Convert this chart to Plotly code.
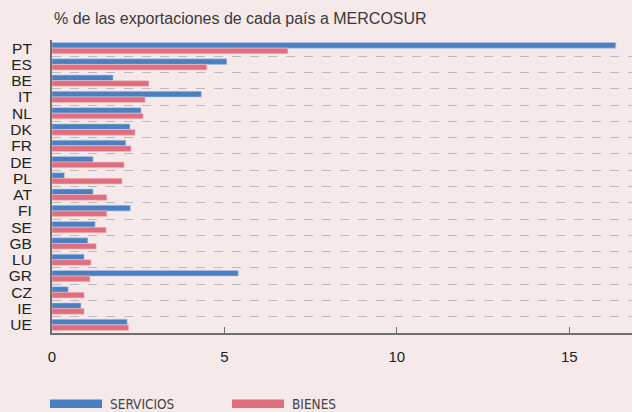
import plotly.graph_objects as go

countries = ["PT", "ES", "BE", "IT", "NL", "DK", "FR", "DE", "PL", "AT", "FI", "SE", "GB", "LU", "GR", "CZ", "IE", "UE"]
servicios = [16.35, 5.07, 1.77, 4.33, 2.58, 2.26, 2.14, 1.19, 0.36, 1.19, 2.27, 1.25, 1.04, 0.93, 5.40, 0.47, 0.84, 2.18]
bienes = [6.84, 4.49, 2.81, 2.70, 2.64, 2.41, 2.29, 2.09, 2.03, 1.59, 1.59, 1.57, 1.28, 1.13, 1.10, 0.93, 0.93, 2.22]
x_ticks = [0, 5, 10, 15]
title_text = "% de las exportaciones de cada país a MERCOSUR"
series_names = ["SERVICIOS", "BIENES"]

BLUE = "#4a7fc1"
PINK = "#df6e7e"
BG = "#f5e9ea"
FONT = "Liberation Sans, Arial, sans-serif"

fig = go.Figure()
fig.add_trace(go.Bar(y=countries, x=servicios, orientation="h", name=series_names[0],
                     marker=dict(color=BLUE, line=dict(color="rgba(180,200,235,0.9)", width=0.7))))
fig.add_trace(go.Bar(y=countries, x=bienes, orientation="h", name=series_names[1],
                     marker=dict(color=PINK, line=dict(color="rgba(245,190,195,0.9)", width=0.7))))

fig.update_layout(
    width=632, height=412,
    paper_bgcolor=BG, plot_bgcolor=BG,
    margin=dict(l=52, r=0, t=40, b=79, autoexpand=False),
    barmode="group", bargap=0.31, bargroupgap=0,
    showlegend=False,
    font=dict(family=FONT, color="#222"),
)
fig.update_yaxes(
    type="category", categoryorder="array", categoryarray=countries,
    tickmode="array", tickvals=countries, ticktext=countries,
    autorange="reversed", automargin=False,
    tickson="boundaries",
    showgrid=True, gridcolor="#bdb9ba", griddash="dash", gridwidth=1,
    showline=True, linecolor="#6f6f6f", linewidth=2,
    ticks="", ticklabelstandoff=15,
    tickfont=dict(size=15.5, color="#222", family=FONT),
    zeroline=False,
)
fig.update_xaxes(
    range=[0, 16.82], automargin=False,
    tickvals=x_ticks, ticktext=[str(v) for v in x_ticks],
    showgrid=False, zeroline=False,
    showline=True, linecolor="#6f6f6f", linewidth=1.5,
    ticks="inside", ticklen=6, tickcolor="#6f6f6f", tickwidth=1,
    ticklabelstandoff=9,
    tickfont=dict(size=15, color="#222", family=FONT),
)

# Title
fig.add_annotation(xref="paper", yref="paper", x=0, y=1, xanchor="left", yanchor="bottom",
                   yshift=11, xshift=0, text=title_text, showarrow=False,
                   font=dict(size=16, color="#3a3a3a", family=FONT))

# Manual legend (long rectangles like the reference)
LEG_FONT = "DejaVu Sans Condensed, Liberation Sans Narrow, Arial Narrow, sans-serif"
legend_items = [(series_names[0], BLUE, 50, 102, 108), (series_names[1], PINK, 232, 284, 290)]
for name, col, x0, x1, tx in legend_items:
    fig.add_shape(type="rect", xref="paper", yref="paper",
                  x0=(x0 - 52) / 580, x1=(x1 - 52) / 580,
                  y0=(333 - 408) / 293, y1=(333 - 399.5) / 293,
                  fillcolor=col, line=dict(width=0), layer="above")
    fig.add_annotation(xref="paper", yref="paper", x=(tx - 52) / 580, y=(333 - 403.5) / 293,
                       xanchor="left", yanchor="middle", text=name, showarrow=False,
                       font=dict(size=13.5, color="#444", family=LEG_FONT))

fig.write_html("out.html", config={"displayModeBar": False},
               post_script="document.body.style.margin='0';document.body.style.background='%s';" % BG)
